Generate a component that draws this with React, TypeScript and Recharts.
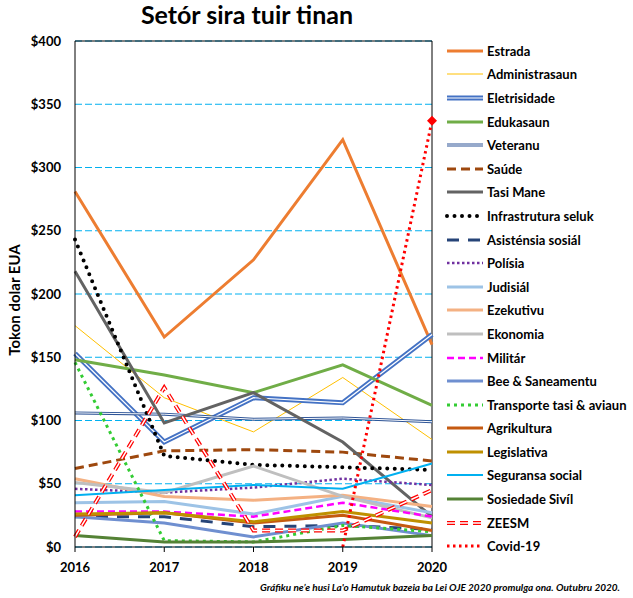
import React from 'react';
import { LineChart, Line, XAxis, YAxis, CartesianGrid, ReferenceLine } from 'recharts';

const years = ['2016', '2017', '2018', '2019', '2020'];

const estrada = [281, 166, 227, 322, 160];
const administrasaun = [175, 118, 91, 134, 85];
const eletrisidade = [153, 83, 118, 114, 168];
const edukasaun = [148, 136, 122, 144, 112];
const veteranu = [106, 105, 101, 102, 99];
const saude = [62, 76, 77, 75, 68];
const tasiMane = [218, 98, 122, 83, 24];
const infrastruturaSeluk = [243, 72, 65, 63, 61];
const asistensiaSosial = [24, 24, 16, 17, 14];
const polisia = [46, 43, 47, 54, 49];
const judisial = [35, 36, 26, 40, 27];
const ezekutivu = [54, 40, 37, 41, 32];
const ekonomia = [51, 43, 64, 40, 23];
const militar = [28, 28, 24, 35, 24];
const beeSaneamentu = [24, 19, 8, 19, 9];
const transporte = [146, 5, 4, 17, 12];
const agrikultura = [25, 27, 19, 25, 13];
const legislativa = [26, 27, 20, 28, 19];
const seguransaSosial = [41, 45, 49, 46, 66];
const sosiedadeSivil = [9, 4, 4, 6, 9];
const zeesm = [8, 126, 13, 13, 45];
const covid19: (number | null)[] = [null, null, null, 0, 337];

const yTicks = [0, 50, 100, 150, 200, 250, 300, 350, 400];

type Series = {
  key: string;
  name: string;
  values: (number | null)[];
  color: string;
  width: number;
  dash?: string;
  cap?: 'round' | 'butt';
  inner?: number; // white centre line for the double-line styles
};

const series: Series[] = [
  { key: 'estrada', name: 'Estrada', values: estrada, color: '#ED7D31', width: 3 },
  { key: 'administrasaun', name: 'Administrasaun', values: administrasaun, color: '#FFC000', width: 1 },
  { key: 'eletrisidade', name: 'Eletrisidade', values: eletrisidade, color: '#4472C4', width: 5, inner: 1.2 },
  { key: 'edukasaun', name: 'Edukasaun', values: edukasaun, color: '#70AD47', width: 3 },
  { key: 'veteranu', name: 'Veteranu', values: veteranu, color: '#2F5597', width: 3, inner: 1 },
  { key: 'saude', name: 'Saúde', values: saude, color: '#9E480E', width: 3, dash: '9 5' },
  { key: 'tasiMane', name: 'Tasi Mane', values: tasiMane, color: '#636363', width: 3 },
  { key: 'infrastruturaSeluk', name: 'Infrastrutura seluk', values: infrastruturaSeluk, color: '#000000', width: 4, dash: '0 7.5', cap: 'round' },
  { key: 'asistensiaSosial', name: 'Asisténsia sosiál', values: asistensiaSosial, color: '#264478', width: 3, dash: '12 9' },
  { key: 'polisia', name: 'Polísia', values: polisia, color: '#7030A0', width: 2.5, dash: '2.5 2.5' },
  { key: 'judisial', name: 'Judisiál', values: judisial, color: '#9DC3E6', width: 3 },
  { key: 'ezekutivu', name: 'Ezekutivu', values: ezekutivu, color: '#F4B183', width: 3 },
  { key: 'ekonomia', name: 'Ekonomia', values: ekonomia, color: '#BFBFBF', width: 3 },
  { key: 'militar', name: 'Militár', values: militar, color: '#FF00FF', width: 2.5, dash: '7 4' },
  { key: 'beeSaneamentu', name: 'Bee & Saneamentu', values: beeSaneamentu, color: '#6F8FD0', width: 3 },
  { key: 'transporte', name: 'Transporte tasi & aviaun', values: transporte, color: '#33CC33', width: 3, dash: '3 4' },
  { key: 'agrikultura', name: 'Agrikultura', values: agrikultura, color: '#C55A11', width: 3 },
  { key: 'legislativa', name: 'Legislativa', values: legislativa, color: '#BF9000', width: 3 },
  { key: 'seguransaSosial', name: 'Seguransa social', values: seguransaSosial, color: '#00B0F0', width: 2 },
  { key: 'sosiedadeSivil', name: 'Sosiedade Sivíl', values: sosiedadeSivil, color: '#548235', width: 3 },
  { key: 'zeesm', name: 'ZEESM', values: zeesm, color: '#FF0000', width: 4, dash: '8 5', inner: 1.5 },
  { key: 'covid19', name: 'Covid-19', values: covid19, color: '#FF0000', width: 3, dash: '2.5 3.5' },
];

const data = years.map((year, i) => {
  const row: Record<string, string | number | null> = { year };
  series.forEach((s) => {
    row[s.key] = s.values[i];
  });
  return row;
});

const FONT = 'Lato, "Noto Sans", sans-serif';

const CovidDot = (props: any) => {
  const { cx, cy, index } = props;
  if (index !== years.length - 1 || cx == null || cy == null) return <g key={`d-${index}`} />;
  return <path key={`d-${index}`} d={`M${cx},${cy - 5} L${cx + 5},${cy} L${cx},${cy + 5} L${cx - 5},${cy} Z`} fill="#FF0000" />;
};

// legend drawn outside the chart so it doesn't eat into the plot area
const SeriesLegend = () => (
  <div style={{ position: 'absolute', left: 445, top: 39, fontFamily: FONT, fontWeight: 700, fontSize: 13, color: '#000' }}>
    {series.map((s) => (
      <div key={s.key} style={{ height: 23.6, display: 'flex', alignItems: 'center', whiteSpace: 'nowrap' }}>
        <svg width={40} height={12} style={{ marginRight: 2 }}>
          <line x1={2} x2={38} y1={6} y2={6} stroke={s.color} strokeWidth={s.width} strokeDasharray={s.dash} strokeLinecap={s.cap ?? 'butt'} />
          {s.inner ? <line x1={2} x2={38} y1={6} y2={6} stroke="#fff" strokeWidth={s.inner} strokeDasharray={s.dash} /> : null}
        </svg>
        <span>{s.name}</span>
      </div>
    ))}
  </div>
);

export default function App() {
  return (
    <div style={{ position: 'absolute', left: 0, top: 0, width: 633, height: 598, background: '#fff', fontFamily: FONT }}>
      <LineChart width={633} height={598} data={data} margin={{ top: 41, right: 201, bottom: 21, left: 0 }} style={{ position: 'absolute', left: 0, top: 0 }}>
        <CartesianGrid vertical={false} stroke="#00B0F0" strokeDasharray="7 3" />
        <XAxis
          dataKey="year"
          height={30}
          axisLine={{ stroke: '#000' }}
          tickLine={{ stroke: '#000' }}
          tickSize={5}
          tickMargin={11}
          tick={{ fill: '#000', fontSize: 13, fontWeight: 700, fontFamily: FONT }}
          interval={0}
        />
        <YAxis
          width={75}
          domain={[0, 400]}
          ticks={yTicks}
          tickFormatter={(v: number) => `$${v}`}
          axisLine={{ stroke: '#000' }}
          tickLine={false}
          tickMargin={8}
          tick={{ fill: '#000', fontSize: 13, fontWeight: 700, fontFamily: FONT }}
        />
        <ReferenceLine y={400} stroke="#000" />
        <ReferenceLine x="2020" stroke="#000" />
        {series.flatMap((s) => {
          const lines = [
            <Line
              key={s.key}
              type="linear"
              dataKey={s.key}
              name={s.name}
              stroke={s.color}
              strokeWidth={s.width}
              strokeDasharray={s.dash}
              strokeLinecap={s.cap ?? 'butt'}
              dot={s.key === 'covid19' ? CovidDot : false}
              activeDot={false}
              isAnimationActive={false}
            />,
          ];
          if (s.inner) {
            lines.push(
              <Line
                key={`${s.key}-inner`}
                type="linear"
                dataKey={s.key}
                legendType="none"
                stroke="#fff"
                strokeWidth={s.inner}
                strokeDasharray={s.dash}
                dot={false}
                activeDot={false}
                isAnimationActive={false}
              />,
            );
          }
          return lines;
        })}
      </LineChart>
      <div style={{ position: 'absolute', left: 0, width: 494, top: -1, textAlign: 'center', fontSize: 25, fontWeight: 700 }}>
        Setór sira tuir tinan
      </div>
      <div
        style={{
          position: 'absolute', left: 14, top: 300, transform: 'translate(-50%, -50%) rotate(-90deg)',
          fontSize: 15, fontWeight: 700, whiteSpace: 'nowrap',
        }}
      >
        Tokon dolar EUA
      </div>
      <SeriesLegend />
      <div style={{ position: 'absolute', right: 13, top: 581, fontSize: 10, fontWeight: 700, fontStyle: 'italic' }}>
        Gráfiku ne’e husi La'o Hamutuk bazeia ba Lei OJE 2020 promulga ona. Outubru 2020.
      </div>
    </div>
  );
}
